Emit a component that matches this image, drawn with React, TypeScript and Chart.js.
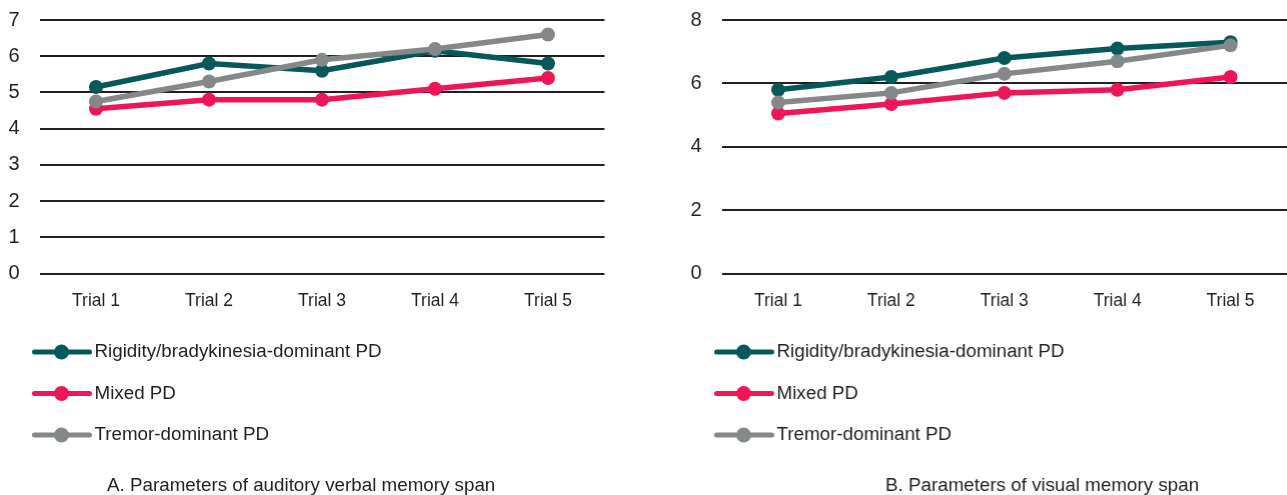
import React, { useEffect, useRef } from "react";
import { Chart, registerables } from "chart.js";

Chart.register(...registerables);

const categories = ["Trial 1", "Trial 2", "Trial 3", "Trial 4", "Trial 5"];
const seriesNames = ["Rigidity/bradykinesia-dominant PD", "Mixed PD", "Tremor-dominant PD"];
const seriesColors = ["#07585b", "#ee1656", "#858889"];

const auditoryRigidity = [5.15, 5.8, 5.6, 6.15, 5.8];
const auditoryMixed = [4.55, 4.8, 4.8, 5.1, 5.4];
const auditoryTremor = [4.75, 5.3, 5.9, 6.2, 6.6];

const visualRigidity = [5.8, 6.2, 6.8, 7.1, 7.3];
const visualMixed = [5.05, 5.35, 5.7, 5.8, 6.2];
const visualTremor = [5.4, 5.7, 6.3, 6.7, 7.2];

const captionA = "A. Parameters of auditory verbal memory span";
const captionB = "B. Parameters of visual memory span";

const FONT = "'Liberation Sans', Arial, Helvetica, sans-serif";
const TEXT = "#231f20";

type PanelProps = {
  series: number[][];
  yMax: number;
  yStep: number;
  caption: string;
  captionOffset: number;
  axisWidth: number;
  padRight: number;
  width: number;
};

function Panel({ series, yMax, yStep, caption, captionOffset, axisWidth, padRight, width }: PanelProps) {
  const ref = useRef<HTMLCanvasElement | null>(null);

  useEffect(() => {
    if (!ref.current) return;
    const legendPlugin = {
      id: "sideLegend",
      afterDraw(chart: any) {
        const { ctx, chartArea } = chart;
        const left = chartArea.left;
        ctx.save();
        seriesNames.forEach((name, i) => {
          const y = 352 + i * 41.5;
          ctx.strokeStyle = seriesColors[i];
          ctx.lineWidth = 5;
          ctx.lineCap = "round";
          ctx.beginPath();
          ctx.moveTo(left - 5, y);
          ctx.lineTo(left + 50, y);
          ctx.stroke();
          ctx.fillStyle = seriesColors[i];
          ctx.beginPath();
          ctx.arc(left + 22, y, 7.5, 0, Math.PI * 2);
          ctx.fill();
          ctx.fillStyle = TEXT;
          ctx.font = `18.8px ${FONT}`;
          ctx.textBaseline = "middle";
          ctx.textAlign = "left";
          ctx.fillText(name, left + 55, y);
        });
        ctx.font = `18.8px ${FONT}`;
        ctx.fillStyle = TEXT;
        ctx.textBaseline = "middle";
        ctx.textAlign = "left";
        ctx.fillText(caption, left + captionOffset, 486);
        ctx.restore();
      },
    };

    const chart = new Chart(ref.current, {
      type: "line",
      data: {
        labels: categories,
        datasets: series.map((values, i) => ({
          label: seriesNames[i],
          data: values,
          borderColor: seriesColors[i],
          backgroundColor: seriesColors[i],
          pointBackgroundColor: seriesColors[i],
          pointBorderWidth: 0,
          pointRadius: 7,
          borderWidth: 5.5,
          tension: 0,
          order: 2 - i,
        })),
      },
      options: {
        responsive: false,
        animation: false,
        layout: { padding: { top: 20, right: padRight, bottom: 0, left: 0 } },
        plugins: {
          legend: { display: false },
          tooltip: { enabled: false },
          title: { display: false },
        },
        scales: {
          x: {
            offset: true,
            grid: { display: false },
            border: { display: false },
            ticks: {
              color: TEXT,
              font: { family: FONT, size: 17.5 },
              padding: 9,
              maxRotation: 0,
            },
            afterFit: (scale: any) => {
              scale.height = 221.5;
              scale.paddingLeft = 0;
              scale.paddingRight = 0;
            },
          },
          y: {
            min: 0,
            max: yMax,
            border: { display: false },
            grid: { color: "#231f20", lineWidth: 2, drawTicks: false },
            ticks: {
              stepSize: yStep,
              color: TEXT,
              font: { family: FONT, size: 20 },
              padding: 20,
            },
            afterFit: (scale: any) => {
              scale.width = axisWidth;
              scale.paddingTop = 0;
              scale.paddingBottom = 0;
            },
          },
        },
      },
      plugins: [legendPlugin],
    });
    return () => chart.destroy();
  }, []);

  return <canvas ref={ref} width={width} height={495} style={{ width, height: 495, display: "block" }} />;
}

export default function App() {
  return (
    <div style={{ position: "fixed", left: 0, top: 0, width: 1287, height: 495, overflow: "hidden", background: "#fff" }}>
      <div style={{ position: "absolute", left: 0, top: 0 }}>
        <Panel
          series={[auditoryRigidity, auditoryMixed, auditoryTremor]}
          yMax={7}
          yStep={1}
          caption={captionA}
          captionOffset={67.5}
          axisWidth={39.5}
          padRight={38.5}
          width={643}
        />
      </div>
      <div style={{ position: "absolute", left: 643, top: 0 }}>
        <Panel
          series={[visualRigidity, visualMixed, visualTremor]}
          yMax={8}
          yStep={2}
          caption={captionB}
          captionOffset={163.5}
          axisWidth={78.5}
          padRight={0}
          width={650.5}
        />
      </div>
    </div>
  );
}
